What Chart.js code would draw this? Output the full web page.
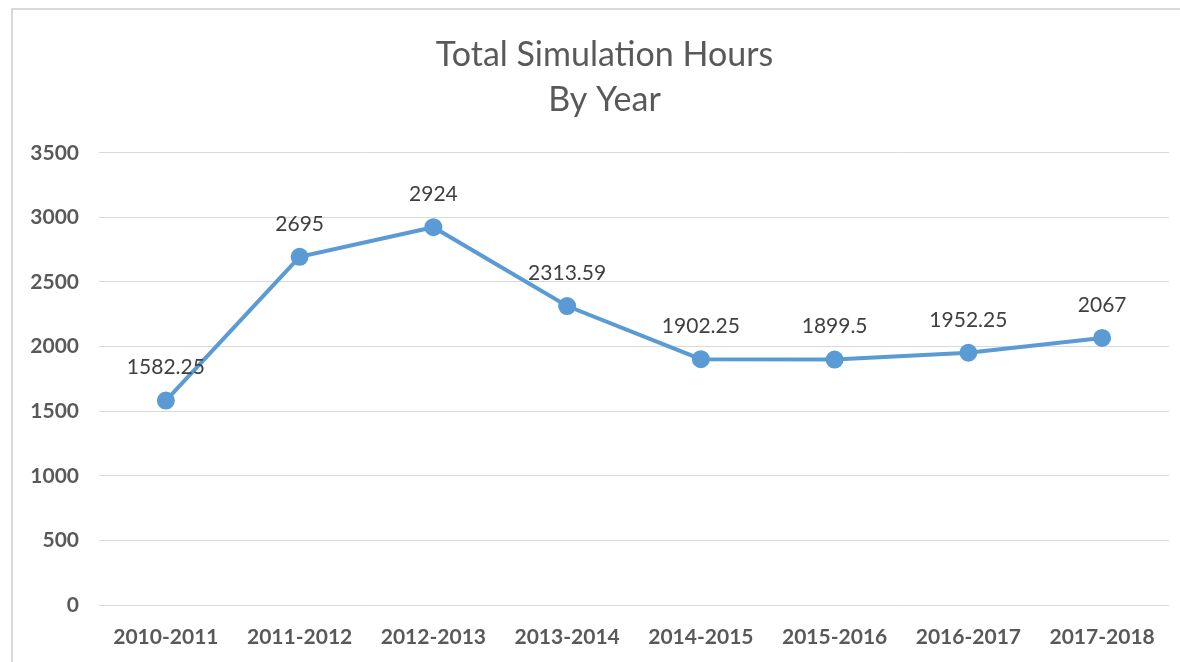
<!DOCTYPE html>
<html>
<head>
<meta charset="utf-8">
<script src="https://cdn.jsdelivr.net/npm/chart.js@4.4.1/dist/chart.umd.min.js"></script>
<style>
  body { margin: 0; background: #fff; overflow: hidden; }
  #frame { position: absolute; left: 11px; top: 8px; width: 1300px; height: 800px; border: 2px solid #d9d9d9; }
  #wrap { position: absolute; left: 0; top: 0; width: 1180px; height: 662px; }
</style>
</head>
<body>
<div id="frame"></div>
<div id="wrap"><canvas id="lineChart"></canvas></div>
<script>
// chart data
var years = ['2010-2011', '2011-2012', '2012-2013', '2013-2014', '2014-2015', '2015-2016', '2016-2017', '2017-2018'];
var hours = [1582.25, 2695, 2924, 2313.59, 1902.25, 1899.5, 1952.25, 2067];
var yTicks = [0, 500, 1000, 1500, 2000, 2500, 3000, 3500];

var blue = '#5B9BD5';

// draws the value above every point
var valueLabels = {
    id: 'valueLabels',
    afterDatasetsDraw: function(chart) {
        var ctx = chart.ctx;
        var meta = chart.getDatasetMeta(0);
        ctx.save();
        ctx.font = '21px Lato';
        ctx.fillStyle = '#404040';
        ctx.textAlign = 'center';
        ctx.textBaseline = 'middle';
        meta.data.forEach(function(pt, i) {
            ctx.fillText(String(hours[i]), pt.x, pt.y - 33);
        });
        ctx.restore();
    }
};

// the title sits a little right of the canvas centre in the original
var shiftTitle = {
    id: 'shiftTitle',
    afterLayout: function(chart) {
        if (chart.titleBlock) chart.titleBlock.left = 39;
    }
};

function createChart() {
    var ctx = document.getElementById('lineChart').getContext('2d');
    new Chart(ctx, {
        type: 'line',
        data: {
            labels: years,
            datasets: [{
                data: hours,
                borderColor: blue,
                backgroundColor: blue,
                borderWidth: 4,
                pointRadius: 7,
                pointHoverRadius: 7,
                tension: 0
            }]
        },
        options: {
            responsive: true,
            maintainAspectRatio: false,
            animation: false,
            layout: { padding: { left: 13, right: 10, top: 0, bottom: 0 } },
            plugins: {
                legend: { display: false },
                tooltip: { enabled: false },
                title: {
                    display: true,
                    text: ['Total Simulation Hours', 'By Year'],
                    color: '#595959',
                    font: { family: 'Lato', size: 34, weight: 'normal', lineHeight: 1.32 },
                    padding: { top: 33, bottom: 30 }
                }
            },
            scales: {
                x: {
                    offset: true,
                    grid: { display: false, drawTicks: false },
                    border: { display: false },
                    ticks: {
                        color: '#595959',
                        font: { family: 'Lato', size: 21, weight: 'bold' },
                        padding: 20,
                        maxRotation: 0
                    },
                    afterFit: function(s) { s.height = 57; }
                },
                y: {
                    min: 0,
                    max: 3500,
                    afterBuildTicks: function(s) {
                        s.ticks = yTicks.map(function(v) { return { value: v }; });
                    },
                    grid: { color: '#d9d9d9', lineWidth: 1, drawTicks: false },
                    border: { display: false },
                    ticks: {
                        color: '#595959',
                        font: { family: 'Lato', size: 21, weight: 'bold' },
                        padding: 20,
                        callback: function(v) { return String(v); }
                    },
                    afterFit: function(s) { s.width = 86; }
                }
            }
        },
        plugins: [valueLabels, shiftTitle]
    });
}

document.addEventListener('DOMContentLoaded', createChart);
</script>
</body>
</html>
